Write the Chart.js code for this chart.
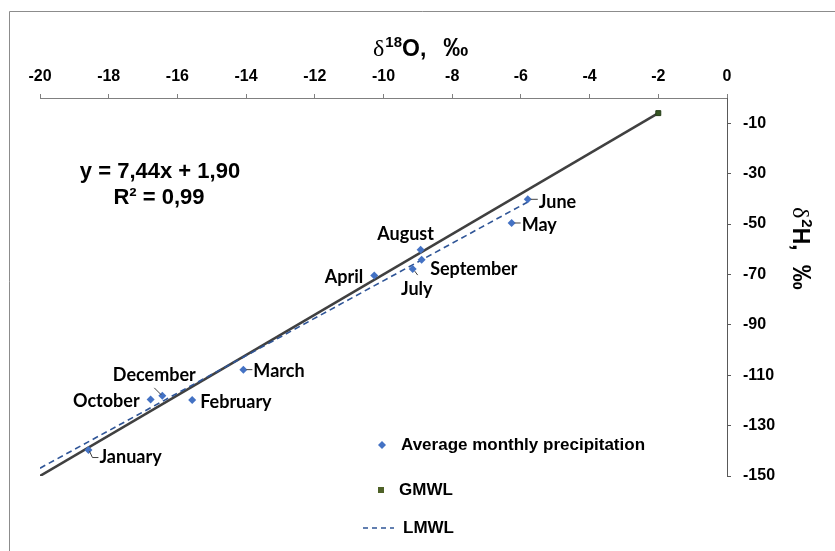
<!DOCTYPE html>
<html>
<head>
<meta charset="utf-8">
<script src="https://cdn.jsdelivr.net/npm/chart.js@4.4.1/dist/chart.umd.min.js"></script>
<style>
  html, body { margin: 0; padding: 0; background: #ffffff; }
  #wrap { width: 835px; height: 551px; position: relative; }
</style>
</head>
<body>
<div id="wrap"><canvas id="chart" width="835" height="551"></canvas></div>
<script>
// Monthly mean isotope composition of precipitation
const months = ['January', 'February', 'March', 'April', 'May', 'June',
                'July', 'August', 'September', 'October', 'December'];
const d18O = [-18.59, -15.57, -14.08, -10.27, -6.27, -5.80,
              -9.15, -8.92, -8.89, -16.78, -16.44];
const d2H  = [-139.7, -119.8, -107.8, -70.4, -49.6, -40.2,
              -67.9, -60.2, -64.2, -119.6, -118.2];

// Global meteoric water line: d2H = 8 * d18O + 10
const gmwlX = [-20, -2];
const gmwlY = [-150, -6];

// Local meteoric water line (least squares fit of the monthly means)
const lmwlSlope = 7.44;
const lmwlIntercept = 1.90;
const lmwlR2 = 0.99;
const lmwlX = [-20, -5.80];

// Axis ticks
const xTicks = [-20, -18, -16, -14, -12, -10, -8, -6, -4, -2, 0];
const yTicks = [-10, -30, -50, -70, -90, -110, -130, -150];

const seriesNames = ['Average monthly precipitation', 'GMWL', 'LMWL'];

const fmt = v => v.toFixed(2).replace('.', ',');
const eqText = 'y = ' + fmt(lmwlSlope) + 'x + ' + fmt(lmwlIntercept);
const r2Text = 'R\u00B2 = ' + fmt(lmwlR2);

// Label placement for each month (offset from the marker, in px)
const labelPlace = {
  January:   { dx: 11,  dy: 7.5, align: 'left',   leader: [[1, 1], [4, 7.5], [10, 7.5]] },
  February:  { dx: 8,   dy: 2,   align: 'left' },
  March:     { dx: 10,  dy: 2,   align: 'left',   leader: [[3, 0], [9, 0]] },
  April:     { dx: -11, dy: 2,   align: 'right' },
  May:       { dx: 10,  dy: 2.5, align: 'left',   leader: [[3, 0], [9, 0]] },
  June:      { dx: 11,  dy: 2.5, align: 'left',   leader: [[3, 0], [10, 0]] },
  July:      { dx: 4,   dy: 20,  align: 'center', leader: [[2, 2], [5, 6]] },
  August:    { dx: -15, dy: -16, align: 'center' },
  September: { dx: 8.5, dy: 9,   align: 'left' },
  October:   { dx: -11, dy: 1.5, align: 'right' },
  December:  { dx: -8,  dy: -21, align: 'center', leader: [[-8, -8], [-1, -1]] }
};

const SANS = '"Liberation Sans", Arial, sans-serif';
const SERIF = '"Liberation Serif", "DejaVu Serif", serif';
const LABEL_FONT = 'bold 18px Lato, "Open Sans", sans-serif';
const BLUE = '#4472C4';

const pageFrame = {
  id: 'pageFrame',
  beforeDraw(chart) {
    const ctx = chart.ctx;
    ctx.save();
    ctx.fillStyle = '#ffffff';
    ctx.fillRect(0, 0, chart.width, chart.height);
    ctx.strokeStyle = '#8c8c8c';
    ctx.lineWidth = 1;
    ctx.beginPath();
    ctx.moveTo(9.5, chart.height + 5);
    ctx.lineTo(9.5, 11.5);
    ctx.lineTo(chart.width + 5, 11.5);
    ctx.stroke();
    ctx.restore();
  }
};

const annotations = {
  id: 'annotations',
  afterDraw(chart) {
    const ctx = chart.ctx;
    ctx.save();

    // month labels
    const meta = chart.getDatasetMeta(0);
    ctx.font = LABEL_FONT;
    ctx.fillStyle = '#000000';
    ctx.textBaseline = 'middle';
    months.forEach((m, i) => {
      const pt = meta.data[i];
      const p = labelPlace[m];
      ctx.textAlign = p.align;
      ctx.fillText(m, pt.x + p.dx, pt.y + p.dy);
      if (p.leader) {
        ctx.strokeStyle = '#404040';
        ctx.lineWidth = 1;
        ctx.beginPath();
        p.leader.forEach((s, k) => {
          const px = pt.x + s[0], py = pt.y + s[1];
          if (k === 0) ctx.moveTo(px, py); else ctx.lineTo(px, py);
        });
        ctx.stroke();
      }
    });

    // regression equation
    ctx.font = 'bold 22px ' + SANS;
    ctx.textAlign = 'center';
    ctx.fillText(eqText, 160, 172);
    ctx.fillText(r2Text, 159, 198);

    // top axis title: δ18O, ‰
    ctx.textAlign = 'left';
    ctx.textBaseline = 'alphabetic';
    let x = 373;
    const base = 56;
    ctx.font = '24px ' + SERIF;
    ctx.fillText('\u03B4', x, base);
    x += ctx.measureText('\u03B4').width + 1;
    ctx.font = 'bold 15px ' + SANS;
    ctx.fillText('18', x, base - 9);
    x += ctx.measureText('18').width;
    ctx.font = 'bold 23px ' + SANS;
    ctx.fillText('O,', x, base);
    x += ctx.measureText('O,').width + 17;
    ctx.font = 'bold 25px ' + SANS;
    ctx.fillText('\u2030', x, base);

    // right axis title: δ2H, ‰ (rotated)
    ctx.translate(801, 207);
    ctx.rotate(Math.PI / 2);
    let y = 0;
    ctx.font = '24px ' + SERIF;
    ctx.fillText('\u03B4', y, 8);
    y += ctx.measureText('\u03B4').width + 1;
    ctx.font = 'bold 15px ' + SANS;
    ctx.fillText('2', y, -1);
    y += ctx.measureText('2').width;
    ctx.font = 'bold 23px ' + SANS;
    ctx.fillText('H,', y, 8);
    y += ctx.measureText('H,').width + 14;
    ctx.font = 'bold 25px ' + SANS;
    ctx.fillText('\u2030', y, 8);
    ctx.setTransform(1, 0, 0, 1, 0, 0);

    // legend
    const lx = 381;
    const rows = [445, 490, 528];
    ctx.font = 'bold 17px ' + SANS;
    ctx.textBaseline = 'middle';
    ctx.textAlign = 'left';
    // diamond
    ctx.fillStyle = BLUE;
    ctx.beginPath();
    ctx.moveTo(lx + 1, rows[0] - 4);
    ctx.lineTo(lx + 5, rows[0]);
    ctx.lineTo(lx + 1, rows[0] + 4);
    ctx.lineTo(lx - 3, rows[0]);
    ctx.closePath();
    ctx.fill();
    ctx.fillStyle = '#000000';
    ctx.fillText(seriesNames[0], 401, rows[0]);
    // square
    ctx.fillStyle = '#4F6228';
    ctx.fillRect(lx - 3, rows[1] - 3, 6, 6);
    ctx.fillStyle = '#000000';
    ctx.fillText(seriesNames[1], 399, rows[1]);
    // dashed line
    ctx.strokeStyle = '#2F5597';
    ctx.lineWidth = 1.5;
    ctx.setLineDash([5, 4]);
    ctx.beginPath();
    ctx.moveTo(363, rows[2]);
    ctx.lineTo(394, rows[2]);
    ctx.stroke();
    ctx.setLineDash([]);
    ctx.fillText(seriesNames[2], 403, rows[2]);

    ctx.restore();
  }
};

const pointsData = d18O.map((v, i) => ({ x: v, y: d2H[i] }));
const gmwlData = gmwlX.map((v, i) => ({ x: v, y: gmwlY[i] }));
const lmwlData = lmwlX.map(v => ({ x: v, y: lmwlSlope * v + lmwlIntercept }));

new Chart(document.getElementById('chart'), {
  type: 'scatter',
  data: {
    datasets: [
      {
        label: seriesNames[0],
        data: pointsData,
        pointStyle: 'rectRot',
        pointRadius: 4,
        backgroundColor: BLUE,
        borderColor: BLUE,
        borderWidth: 0,
        order: 0
      },
      {
        label: seriesNames[1],
        data: gmwlData,
        showLine: true,
        borderColor: '#404040',
        borderWidth: 2.5,
        pointStyle: 'rect',
        pointRadius: [0, 3.5],
        pointBackgroundColor: '#375623',
        pointBorderColor: '#263d18',
        pointBorderWidth: 1,
        order: 2
      },
      {
        label: seriesNames[2],
        data: lmwlData,
        showLine: true,
        borderColor: '#2F5597',
        borderWidth: 1.6,
        borderDash: [6, 4],
        pointRadius: 0,
        order: 1
      }
    ]
  },
  options: {
    responsive: false,
    animation: false,
    layout: { padding: { left: 40, top: 0, right: 0, bottom: 75 } },
    plugins: {
      legend: { display: false },
      tooltip: { enabled: false }
    },
    scales: {
      x: {
        type: 'linear',
        position: 'top',
        min: -20,
        max: 0,
        afterBuildTicks: s => { s.ticks = xTicks.map(v => ({ value: v })); },
        afterFit: s => { s.height = 98; },
        ticks: {
          font: { family: SANS, size: 16, weight: 'bold' },
          color: '#000000',
          padding: 8,
          maxRotation: 0
        },
        grid: { drawOnChartArea: false, drawTicks: true, tickLength: 4, color: '#808080' },
        border: { color: '#808080', width: 1 }
      },
      y: {
        type: 'linear',
        position: 'right',
        min: -150,
        max: 0,
        afterBuildTicks: s => { s.ticks = yTicks.map(v => ({ value: v })); },
        afterFit: s => { s.width = 108; },
        ticks: {
          font: { family: SANS, size: 16, weight: 'bold' },
          color: '#000000',
          padding: 12
        },
        grid: { drawOnChartArea: false, drawTicks: true, tickLength: 4, color: '#595959' },
        border: { color: '#595959', width: 1 }
      }
    }
  },
  plugins: [pageFrame, annotations]
});
</script>
</body>
</html>
